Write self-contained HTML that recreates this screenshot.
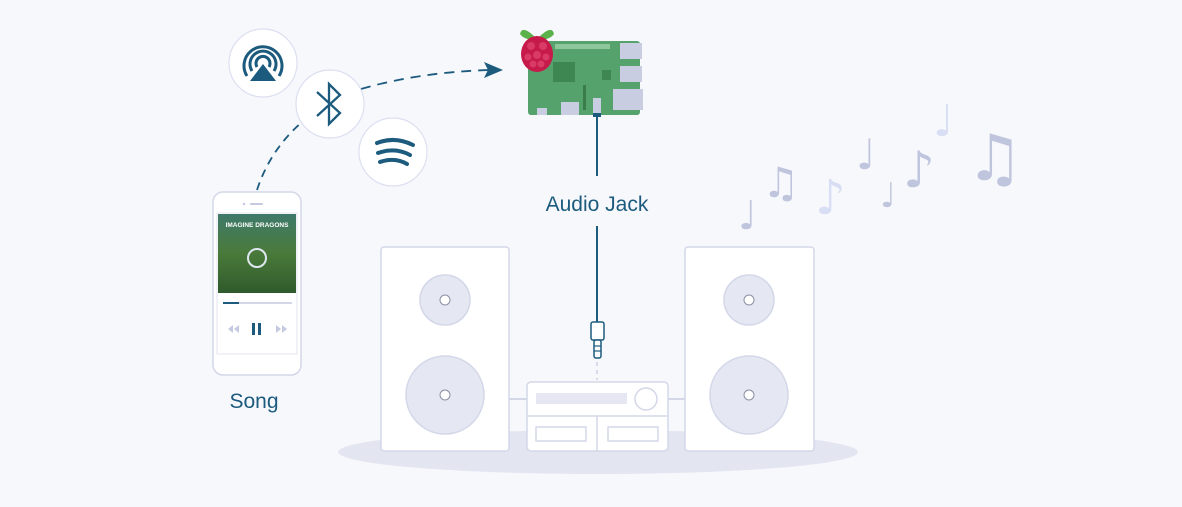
<!DOCTYPE html>
<html><head><meta charset="utf-8"><style>
html,body{margin:0;padding:0;background:#f7f8fc;}
svg{display:block}
</style></head><body>
<svg width="1182" height="507" viewBox="0 0 1182 507" xmlns="http://www.w3.org/2000/svg" font-family="'Liberation Sans', sans-serif">
<rect width="1182" height="507" fill="#f7f8fc"/>
<ellipse cx="598" cy="452" rx="260" ry="22" fill="#e3e5f1"/>
<line x1="509" y1="399" x2="527" y2="399" stroke="#d3d7e8" stroke-width="2"/>
<line x1="668" y1="399" x2="685" y2="399" stroke="#d3d7e8" stroke-width="2"/>
<rect x="381" y="247" width="128" height="204" rx="3" fill="#fff" stroke="#d3d7e8" stroke-width="1.5"/>
<circle cx="445" cy="300" r="25" fill="#e5e8f3" stroke="#d3d7e8" stroke-width="1.5"/>
<circle cx="445" cy="300" r="5" fill="#fff" stroke="#8a8fa3" stroke-width="1"/>
<circle cx="445" cy="395" r="39" fill="#e5e8f3" stroke="#d3d7e8" stroke-width="1.5"/>
<circle cx="445" cy="395" r="5" fill="#fff" stroke="#8a8fa3" stroke-width="1"/>
<rect x="685" y="247" width="129" height="204" rx="3" fill="#fff" stroke="#d3d7e8" stroke-width="1.5"/>
<circle cx="749" cy="300" r="25" fill="#e5e8f3" stroke="#d3d7e8" stroke-width="1.5"/>
<circle cx="749" cy="300" r="5" fill="#fff" stroke="#8a8fa3" stroke-width="1"/>
<circle cx="749" cy="395" r="39" fill="#e5e8f3" stroke="#d3d7e8" stroke-width="1.5"/>
<circle cx="749" cy="395" r="5" fill="#fff" stroke="#8a8fa3" stroke-width="1"/>
<rect x="527" y="382" width="141" height="69" rx="4" fill="#fff" stroke="#d3d7e8" stroke-width="1.5"/>
<rect x="536" y="393" width="91" height="11" fill="#e5e8f3"/>
<circle cx="646" cy="399" r="11" fill="#fff" stroke="#d3d7e8" stroke-width="1.5"/>
<line x1="527" y1="416" x2="668" y2="416" stroke="#d3d7e8" stroke-width="1.5"/>
<line x1="597" y1="416" x2="597" y2="451" stroke="#d3d7e8" stroke-width="1.5"/>
<rect x="536" y="427" width="50" height="14" fill="#fff" stroke="#d3d7e8" stroke-width="1.5"/>
<rect x="608" y="427" width="50" height="14" fill="#fff" stroke="#d3d7e8" stroke-width="1.5"/>
<line x1="597" y1="115" x2="597" y2="176" stroke="#1c5b7e" stroke-width="2"/>
<line x1="597" y1="226" x2="597" y2="322" stroke="#1c5b7e" stroke-width="2"/>
<rect x="591" y="322" width="13" height="18" rx="2" fill="#fff" stroke="#1c5b7e" stroke-width="1.5"/>
<rect x="594" y="340" width="7" height="18" rx="2" fill="#fff" stroke="#1c5b7e" stroke-width="1.5"/>
<line x1="594" y1="346" x2="601" y2="346" stroke="#1c5b7e" stroke-width="1.2"/>
<line x1="594" y1="351" x2="601" y2="351" stroke="#1c5b7e" stroke-width="1.2"/>
<line x1="597" y1="362" x2="597" y2="380" stroke="#b8bdd2" stroke-width="1" stroke-dasharray="4 4"/>
<text x="597" y="211" font-size="21" fill="#1c5b7e" text-anchor="middle">Audio Jack</text>
<rect x="528" y="41" width="112" height="74" rx="3" fill="#56a26c"/>
<rect x="555" y="44" width="55" height="5" fill="#8fc79c"/>
<rect x="553" y="62" width="22" height="20" fill="#3f8752"/>
<rect x="602" y="70" width="9" height="10" fill="#3f8752"/>
<rect x="620" y="43" width="22" height="16" fill="#c9cde2"/>
<rect x="620" y="66" width="22" height="16" fill="#c9cde2"/>
<rect x="613" y="89" width="30" height="21" fill="#c9cde2"/>
<rect x="561" y="102" width="18" height="13" fill="#c9cde2"/>
<rect x="537" y="108" width="10" height="7" fill="#c9cde2"/>
<rect x="593" y="98" width="8" height="16" fill="#c9cde2"/>
<rect x="583" y="85" width="3" height="25" fill="#3a7c4a"/>
<rect x="593" y="113" width="8" height="4" fill="#1c5b7e"/>
<g>
<path d="M536 38 Q522 24 520 34 Q524 40 536 40 Z" fill="#5bb24a"/>
<path d="M538 38 Q552 24 554 34 Q550 40 538 40 Z" fill="#5bb24a"/>
<ellipse cx="537" cy="54" rx="16" ry="18" fill="#c51a4a"/>
<circle cx="531" cy="46" r="4" fill="#d93a66"/><circle cx="543" cy="46" r="4" fill="#d93a66"/>
<circle cx="537" cy="55" r="4" fill="#d93a66"/><circle cx="528" cy="57" r="3.5" fill="#d93a66"/>
<circle cx="546" cy="57" r="3.5" fill="#d93a66"/><circle cx="533" cy="64" r="3.5" fill="#d93a66"/><circle cx="541" cy="64" r="3.5" fill="#d93a66"/>
</g>
<path d="M257 190 Q270 150 302 122" fill="none" stroke="#1c5b7e" stroke-width="1.8" stroke-dasharray="8 6"/>
<path d="M361 89 Q420 72 490 70" fill="none" stroke="#1c5b7e" stroke-width="1.8" stroke-dasharray="10 7"/>
<path d="M503 70 L484 62 L488 70 L484 78 Z" fill="#1c5b7e"/>
<circle cx="263" cy="63" r="34" fill="#fff" stroke="#dcdff0" stroke-width="1.2"/>
<g fill="none" stroke="#1c5b7e" stroke-width="3">
<path d="M252 71 A13 13 0 1 1 274 71"/>
<path d="M247 76 A19 19 0 1 1 279 76"/>
<path d="M257 67 A7 7 0 1 1 269 67"/>
</g>
<path d="M263 64 L276 81 L250 81 Z" fill="#1c5b7e"/>
<circle cx="330" cy="104" r="34" fill="#fff" stroke="#dcdff0" stroke-width="1.2"/>
<path d="M317 92 L340 113 L329 124 L329 84 L340 95 L317 116" fill="none" stroke="#1c5b7e" stroke-width="2.3"/>
<circle cx="393" cy="152" r="34" fill="#fff" stroke="#dcdff0" stroke-width="1.2"/>
<g fill="none" stroke="#1c5b7e" stroke-width="4" stroke-linecap="round">
<path d="M377 143 Q395 136 413 145"/>
<path d="M378 153 Q395 147 410 155"/>
<path d="M380 162 Q395 157 407 164"/>
</g>
<rect x="213" y="192" width="88" height="183" rx="10" fill="#fff" stroke="#d3d7e8" stroke-width="1.5"/>
<circle cx="244" cy="204" r="1.3" fill="#c5cae0"/>
<rect x="250" y="203" width="13" height="2" rx="1" fill="#c5cae0"/>
<rect x="217" y="213" width="80" height="141" fill="#fff" stroke="#e3e6f2"/>
<defs><linearGradient id="alb" x1="0" y1="0" x2="0" y2="1"><stop offset="0" stop-color="#3f7a6a"/><stop offset="0.5" stop-color="#4a7a3a"/><stop offset="1" stop-color="#2f5a2c"/></linearGradient></defs>
<rect x="218" y="214" width="78" height="79" fill="url(#alb)"/>
<circle cx="257" cy="258" r="9" fill="none" stroke="#dfe8f0" stroke-width="2"/>
<text x="257" y="227" font-size="6.5" fill="#fff" text-anchor="middle" font-weight="bold">IMAGINE DRAGONS</text>
<line x1="223" y1="303" x2="292" y2="303" stroke="#d3d7e8" stroke-width="2"/>
<line x1="223" y1="303" x2="239" y2="303" stroke="#1c5b7e" stroke-width="2"/>
<path d="M233 325 L228 329 L233 333 Z M239 325 L234 329 L239 333 Z" fill="#c5cae0"/>
<path d="M276 325 L281 329 L276 333 Z M282 325 L287 329 L282 333 Z" fill="#c5cae0"/>
<rect x="252" y="323" width="3" height="12" fill="#1c5b7e"/><rect x="258" y="323" width="3" height="12" fill="#1c5b7e"/>
<text x="254" y="408" font-size="21" fill="#1c5b7e" text-anchor="middle">Song</text>
<g font-family="'DejaVu Sans', sans-serif" fill="#bfc5dd">
<text x="738" y="229" font-size="40">♩</text>
<text x="762" y="197" font-size="42">♫</text>
<text x="815" y="214" font-size="48" fill="#d8def3">♪</text>
<text x="856" y="169" font-size="42">♩</text>
<text x="880" y="207" font-size="34">♩</text>
<text x="903" y="187" font-size="50">♪</text>
<text x="933" y="136" font-size="44" fill="#d8def3">♩</text>
<text x="966" y="180" font-size="64">♫</text>
</g>
</svg>
</body></html>
